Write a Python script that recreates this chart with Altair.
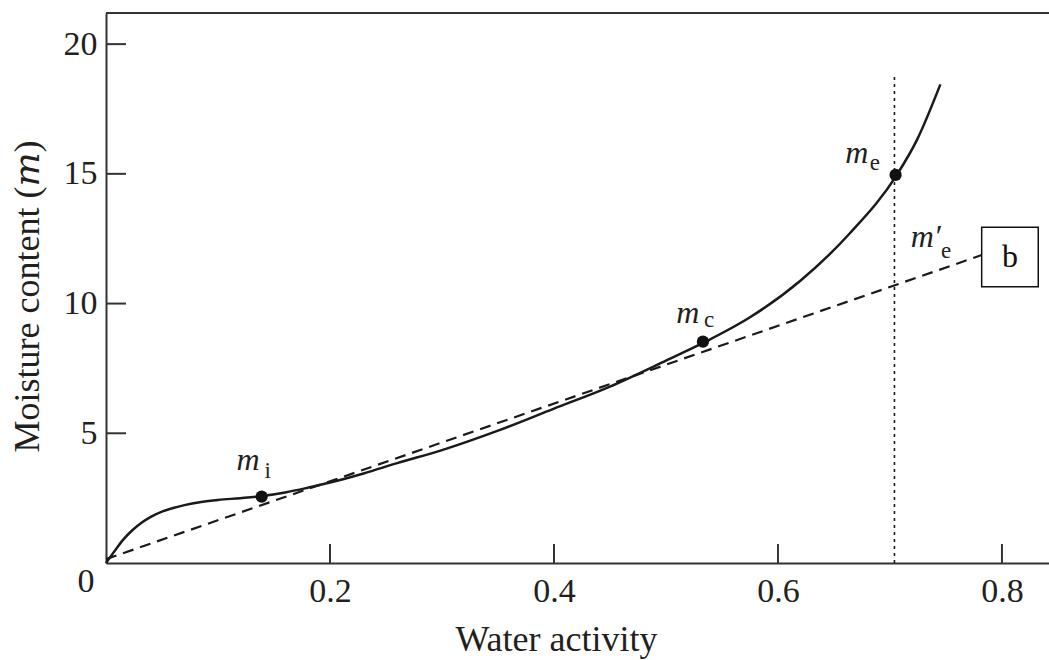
import altair as alt
import pandas as pd

# ---- data ----
aw_curve = [0, 0.005, 0.01, 0.016, 0.024, 0.032, 0.04, 0.05, 0.06, 0.07, 0.085, 0.1, 0.12,
            0.139, 0.16, 0.18, 0.2, 0.23, 0.26, 0.3, 0.35, 0.4, 0.45, 0.5, 0.534, 0.575,
            0.62, 0.664, 0.706, 0.724, 0.745]
m_curve = [0, 0.3, 0.6, 0.93, 1.28, 1.56, 1.78, 1.98, 2.12, 2.23, 2.35, 2.43, 2.5,
           2.58, 2.72, 2.9, 3.1, 3.45, 3.85, 4.35, 5.1, 5.95, 6.8, 7.8, 8.5, 9.47,
           10.88, 12.7, 14.95, 16.3, 18.45]

aw_dash = [0.0, 0.782]
m_dash = [0.15, 11.87]

aw_vline = [0.704]
m_vline_top = [18.8]

point_names = ["mi", "mc", "me"]
aw_points = [0.139, 0.533, 0.705]
m_points = [2.56, 8.53, 14.96]

# label pieces: main italic "m" and subscripts
lab_m_text = ["m", "m", "m", "m′"]
lab_m_aw = [0.1165, 0.5092, 0.6600, 0.7185]
lab_m_m = [3.585, 9.25, 15.42, 12.18]
lab_sub_text = ["i", "c", "e", "e"]
lab_sub_aw = [0.1415, 0.5340, 0.6820, 0.7455]
lab_sub_m = [3.28, 9.10, 15.15, 11.76]

box_aw = [0.7819, 0.8324]
box_m = [10.65, 12.94]
box_text = ["b"]
box_text_aw = [0.8071]
box_text_m = [11.41]

x_ticks = [0.2, 0.4, 0.6, 0.8]
y_ticks = [5, 10, 15, 20]

X_DOMAIN = [0, 0.842]
Y_DOMAIN = [0, 21.2]
W, H = 943, 550
FONT = "Liberation Serif"
INK = "#231f20"

xs = alt.Scale(domain=X_DOMAIN, nice=False, zero=False)
ys = alt.Scale(domain=Y_DOMAIN, nice=False, zero=False)

curve_df = pd.DataFrame({"aw": aw_curve, "m": m_curve})
dash_df = pd.DataFrame({"aw": aw_dash, "m": m_dash})
vline_df = pd.DataFrame({"aw": aw_vline, "m0": [0] * len(aw_vline), "m1": m_vline_top})
pts_df = pd.DataFrame({"name": point_names, "aw": aw_points, "m": m_points})
labm_df = pd.DataFrame({"t": lab_m_text, "aw": lab_m_aw, "m": lab_m_m})
labs_df = pd.DataFrame({"t": lab_sub_text, "aw": lab_sub_aw, "m": lab_sub_m})
box_df = pd.DataFrame({"a0": [box_aw[0]], "a1": [box_aw[1]], "m0": [box_m[0]], "m1": [box_m[1]]})
boxt_df = pd.DataFrame({"t": box_text, "aw": box_text_aw, "m": box_text_m})
xt_df = pd.DataFrame({"aw": x_ticks})
yt_df = pd.DataFrame({"m": y_ticks})
origin_df = pd.DataFrame({"aw": [0.0], "m": [0.0], "t": ["0"]})
one_df = pd.DataFrame({"k": [0]})

x_axis = alt.Axis(
    values=x_ticks, format=".1f", ticks=False, tickSize=0, grid=False,
    domainColor="#333333", domainWidth=2,
    labelFont=FONT, labelFontSize=34, labelColor=INK, labelPadding=11,
    title="Water activity", titleFont=FONT, titleFontSize=36, titleFontWeight="normal",
    titleColor=INK, titleX=450, titleY=87, titleBaseline="alphabetic", titleAlign="center",
)
y_axis = alt.Axis(
    values=y_ticks, ticks=False, tickSize=0, grid=False,
    domainColor="#333333", domainWidth=2,
    labelFont=FONT, labelFontSize=34, labelColor=INK, labelPadding=9,
    title="Moisture content (𝑚)", titleFont="Liberation Serif, DejaVu Serif, serif",
    titleFontSize=36, titleFontWeight="normal",
    titleColor=INK, titleAngle=270, titleX=-68, titleY=283, titleBaseline="alphabetic",
    titleAlign="center",
)

curve = alt.Chart(curve_df).mark_line(color="#1a1a1a", strokeWidth=2.5, interpolate="monotone").encode(
    x=alt.X("aw:Q", scale=xs, axis=x_axis),
    y=alt.Y("m:Q", scale=ys, axis=y_axis),
)

dash = alt.Chart(dash_df).mark_line(color="#1a1a1a", strokeWidth=2.2, strokeDash=[11, 7]).encode(
    x=alt.X("aw:Q", scale=xs), y=alt.Y("m:Q", scale=ys)
)

vline = alt.Chart(vline_df).mark_rule(color="#1a1a1a", strokeWidth=1.6, strokeDash=[3, 4]).encode(
    x=alt.X("aw:Q", scale=xs), y=alt.Y("m0:Q", scale=ys), y2="m1:Q"
)

pts = alt.Chart(pts_df).mark_circle(color="#111111", opacity=1, size=150).encode(
    x=alt.X("aw:Q", scale=xs), y=alt.Y("m:Q", scale=ys)
)

labm = alt.Chart(labm_df).mark_text(
    font=FONT, fontSize=32, fontStyle="italic", color=INK, align="left", baseline="alphabetic"
).encode(x=alt.X("aw:Q", scale=xs), y=alt.Y("m:Q", scale=ys), text="t:N")

labs = alt.Chart(labs_df).mark_text(
    font=FONT, fontSize=23, color=INK, align="left", baseline="alphabetic"
).encode(x=alt.X("aw:Q", scale=xs), y=alt.Y("m:Q", scale=ys), text="t:N")

box = alt.Chart(box_df).mark_rect(fill="white", stroke="#111111", strokeWidth=1.5).encode(
    x=alt.X("a0:Q", scale=xs), x2="a1:Q", y=alt.Y("m0:Q", scale=ys), y2="m1:Q"
)

boxt = alt.Chart(boxt_df).mark_text(
    font=FONT, fontSize=32, color="#111111", align="center", baseline="alphabetic"
).encode(x=alt.X("aw:Q", scale=xs), y=alt.Y("m:Q", scale=ys), text="t:N")

xticks = alt.Chart(xt_df).mark_rule(color="#333333", strokeWidth=2).encode(
    x=alt.X("aw:Q", scale=xs), y=alt.value(H), y2=alt.value(H - 19)
)
yticks = alt.Chart(yt_df).mark_rule(color="#333333", strokeWidth=2).encode(
    y=alt.Y("m:Q", scale=ys), x=alt.value(0), x2=alt.value(20)
)
top_border = alt.Chart(one_df).mark_rule(color="#333333", strokeWidth=2).encode(
    x=alt.value(0), x2=alt.value(W), y=alt.value(0)
)
origin = alt.Chart(origin_df).mark_text(
    font=FONT, fontSize=34, color=INK, align="center", baseline="middle", dx=-20, dy=19
).encode(x=alt.X("aw:Q", scale=xs), y=alt.Y("m:Q", scale=ys), text="t:N")

chart = alt.layer(
    curve, dash, vline, xticks, yticks, top_border, pts, labm, labs, box, boxt, origin
).properties(
    width=W, height=H,
    padding={"left": 106, "top": 13, "right": 0, "bottom": 97},
    autosize=alt.AutoSizeParams(type="none"),
    background="white",
).configure_view(stroke=None)

chart.save("out.html", embed_options={"renderer": "svg", "actions": False})
